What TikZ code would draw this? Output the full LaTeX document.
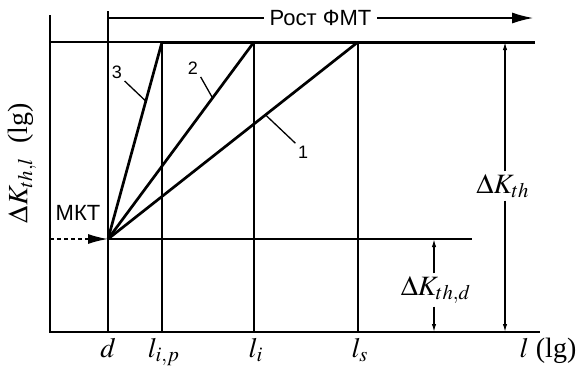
\documentclass[tikz,border=0pt]{standalone}
\usepackage{mathptmx}
\usepackage{fontspec}
\setmainfont{Liberation Serif}
\setsansfont{Liberation Sans}
\usetikzlibrary{arrows.meta,calc}

\begin{document}
\begin{tikzpicture}[x=0.5pt,y=-0.5pt,line width=0.65pt,
  thickline/.style={line width=1.5pt},
  ray/.style={line width=1.35pt},
  smallarrow/.style={-{Latex[length=4pt,width=2.2pt]}},
  numlabel/.style={font=\sffamily\fontsize{9}{9}\selectfont,inner sep=1pt},
  sanslabel/.style={font=\sffamily\fontsize{11}{11}\selectfont,inner sep=1pt},
  mathlabel/.style={font=\fontsize{14}{14}\selectfont,inner sep=1pt}]
\useasboundingbox (0,0) rectangle (577,376);
% ================= axes and grid =================
\coordinate (O) at (50,332);
\coordinate (Ytop) at (50,15);
\coordinate (Xend) at (540,332);
\coordinate (Top) at (50,42);
\coordinate (TopEnd) at (535,42);
\coordinate (Dtop) at (108,11);
\coordinate (D) at (108,332);
\coordinate (MKT) at (108,239);
\coordinate (MKTend) at (472,239);
\coordinate (T3) at (162,42);
\coordinate (T2) at (254,42);
\coordinate (T1) at (358,42);
\draw (Ytop) -- (O) -- (Xend);
\draw (Dtop) -- (D);
\draw (Top) -- (T3);
\draw[thickline] (T3) -- (TopEnd);
\draw (T3) -- (T3 |- O);
\draw (T2) -- (T2 |- O);
\draw (T1) -- (T1 |- O);
\draw (MKT) -- (MKTend);
% growth arrow on top
\coordinate (Rost) at (108,18);
\coordinate (RostEnd) at (533,18);
\draw[-{Latex[length=10.5pt,width=5.5pt]}] (Rost) -- node[sanslabel,fill=white,inner xsep=3pt] (rostlbl) {Рост ФМТ} (RostEnd);
% ================= rays 1, 2, 3 =================
\draw[ray] (MKT) -- (T3);
\draw[ray] (MKT) -- (T2);
\draw[ray] (MKT) -- (T1);
\node[numlabel] (lab3) at (117,72) {3};
\node[numlabel] (lab2) at (193,68) {2};
\node[numlabel] (lab1) at (303,152) {1};
\draw (lab3.south east) -- ($(MKT)!0.70!(T3)$);
\draw (lab2.south east) -- ($(MKT)!0.716!(T2)$);
\draw (lab1.north west) -- ($(MKT)!0.63!(T1)$);
% MKT input
\coordinate (Dash) at (50,239);
\draw[dashed,dash pattern=on 2pt off 1.5pt,line width=0.8pt,-{Latex[length=10pt,width=5pt]}] (Dash) -- (MKT);
\node[sanslabel] (mktlbl) at (78,213) {МКТ};
% ================= thresholds =================
\node[mathlabel] (dKth) at (503,186) {$\Delta K_{th}$};
\draw[smallarrow] (dKth.north -| 505,0) -- (505,42);
\draw[smallarrow] (dKth.south -| 505,0) -- (505,332);
\node[mathlabel] (dKthd) at (436,290) {$\Delta K_{th,d}$};
\draw[smallarrow] (dKthd.north -| 434,0) -- (434,239);
\draw[smallarrow] (dKthd.south -| 434,0) -- (434,332);
% ================= axis labels =================
\node[mathlabel,rotate=90] (ylbl) at (22,163) {$\Delta K_{th,l}$\ \ (lg)};
\node[mathlabel,anchor=base] (xd) at (108,357) {$d$};
\node[mathlabel,anchor=base] (xlip) at (164,357) {$l_{i,p}$};
\node[mathlabel,anchor=base] (xli) at (256,357) {$l_i$};
\node[mathlabel,anchor=base] (xls) at (360,357) {$l_s$};
\node[mathlabel,anchor=base] (xl) at (548,357) {$l$ (lg)};
\end{tikzpicture}
\end{document}
